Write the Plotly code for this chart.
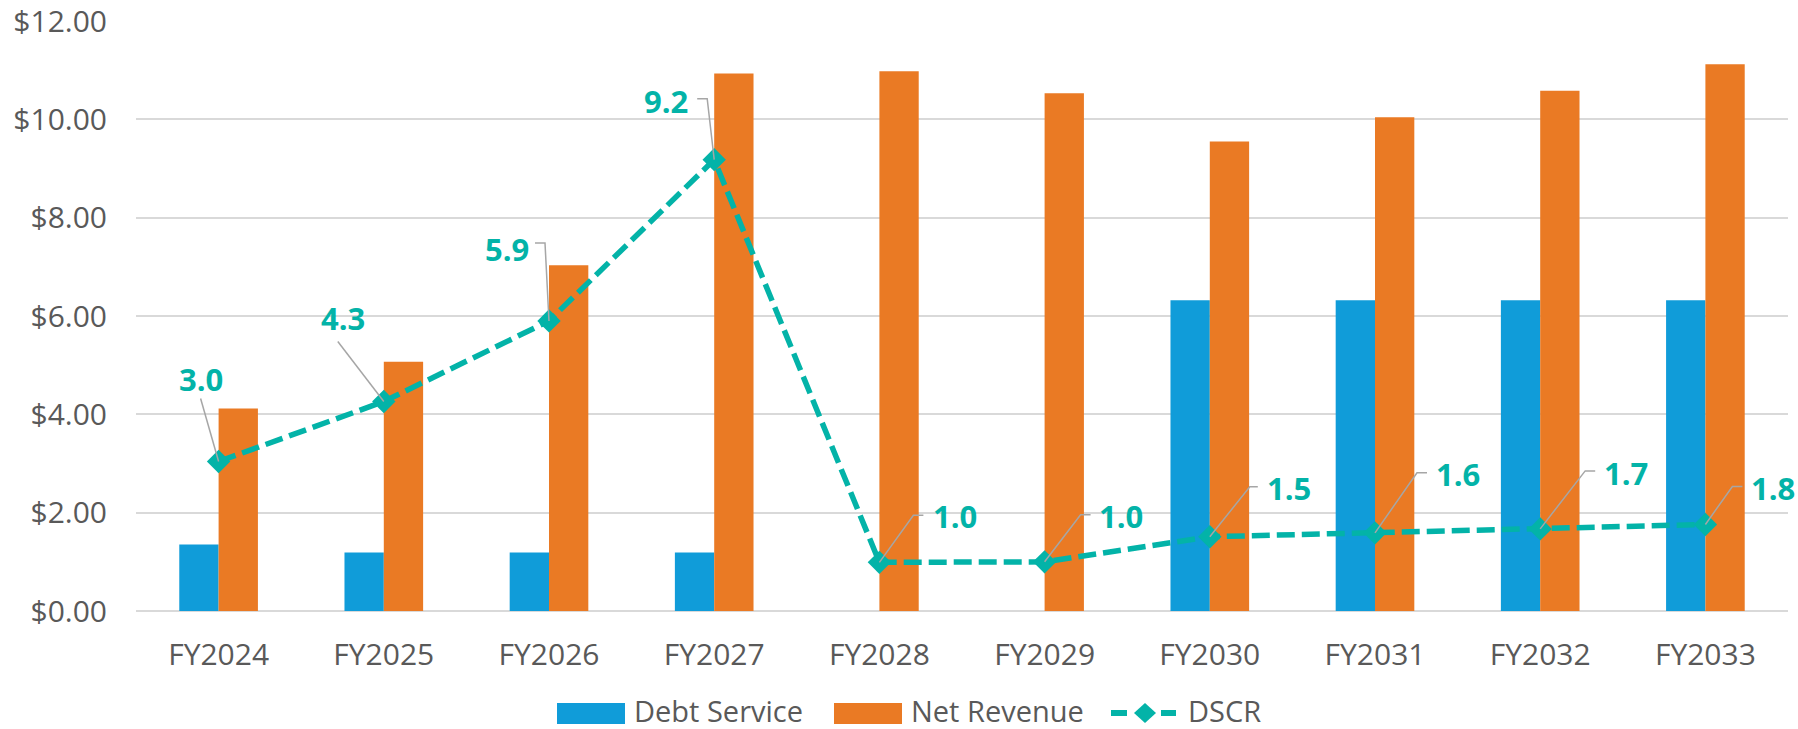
import plotly.graph_objects as go

# ---------------- data ----------------
categories = ["FY2024", "FY2025", "FY2026", "FY2027", "FY2028",
              "FY2029", "FY2030", "FY2031", "FY2032", "FY2033"]
debt_service = [1.355, 1.19, 1.19, 1.19, 0, 0, 6.32, 6.32, 6.32, 6.32]
net_revenue = [4.12, 5.07, 7.03, 10.93, 10.98, 10.53, 9.55, 10.04, 10.58, 11.12]
dscr = [3.04, 4.26, 5.90, 9.18, 0.99, 1.00, 1.51, 1.59, 1.67, 1.76]
y_ticks = [0, 2, 4, 6, 8, 10, 12]

# ---------------- styling ----------------
W, H = 1798, 729
L, R, T, B = 136, 10, 21, 118
PW, PH = W - L - R, H - T - B
BLUE = "#109CD9"
ORANGE = "#EA7A24"
TEAL = "#03B3A8"
GREY_TXT = "#595959"
GRID = "#D9D9D9"
LEAD = "#A6A6A6"
FONT = "Open Sans"
FS = 30
FS_LEG = 29
FS_LBL = 31

# label placement (pixel offsets from the marker: text centre, hook start, hook end)
label_text_off = [(-18, -83), (-41, -84), (-42, -72), (-48, -59), (76, -46),
                  (76, -46), (79, -49), (83, -59), (86, -56), (68, -36)]
label_lead = [
    [(-18, -63)],
    [(-46, -60)],
    [(-14, -78), (-4, -78)],
    [(-17, -61), (-7, -61)],
    [(44, -47), (34, -47)],
    [(46, -47), (36, -47)],
    [(48, -50), (40, -50)],
    [(52, -60), (42, -60)],
    [(55, -58), (45, -58)],
    [(37, -38), (27, -38)],
]

xs = list(range(len(categories)))

fig = go.Figure()
fig.add_trace(go.Bar(x=xs, y=debt_service, name="Debt Service",
                     marker=dict(color=BLUE, line=dict(width=0))))
fig.add_trace(go.Bar(x=xs, y=net_revenue, name="Net Revenue",
                     marker=dict(color=ORANGE, line=dict(width=0))))
fig.add_trace(go.Scatter(x=xs, y=dscr, name="DSCR", mode="lines+markers",
                         line=dict(color=TEAL, width=5.5, dash="18px,7px"),
                         marker=dict(symbol="diamond", size=18, color=TEAL)))

shapes = []
annotations = []
for i, v in enumerate(dscr):
    pts = [(0, 0)] + label_lead[i][::-1]
    path = "M" + " L".join(f"{dx},{-dy}" for dx, dy in pts)
    shapes.append(dict(type="path", xref="x", yref="y",
                       xsizemode="pixel", ysizemode="pixel",
                       xanchor=xs[i], yanchor=v, path=path,
                       line=dict(color=LEAD, width=1.5), layer="above"))
    tdx, tdy = label_text_off[i]
    annotations.append(dict(x=xs[i], y=v, xref="x", yref="y",
                            text=f"<b>{v:.1f}</b>", showarrow=False,
                            xshift=tdx, yshift=-tdy,
                            xanchor="center", yanchor="middle",
                            font=dict(family=FONT, size=FS_LBL, color=TEAL)))


# ---------------- custom legend ----------------
def px_x(p):
    return (p - L) / PW


def px_y(p):
    return (H - B - p) / PH


leg_y0, leg_y1, leg_yc = 703, 724, 710
for (x0, x1, col, txt, tx) in [(557, 625, BLUE, "Debt Service", 632),
                               (834, 902, ORANGE, "Net Revenue", 909)]:
    shapes.append(dict(type="rect", xref="paper", yref="paper",
                       x0=px_x(x0), x1=px_x(x1), y0=px_y(leg_y1), y1=px_y(leg_y0),
                       fillcolor=col, line=dict(width=0)))
    annotations.append(dict(x=px_x(tx), y=px_y(leg_yc), xref="paper", yref="paper",
                            text=txt, showarrow=False, xanchor="left", yanchor="middle",
                            font=dict(family=FONT, size=FS_LEG, color=GREY_TXT)))
for (x0, x1) in [(1111, 1127), (1161, 1176)]:
    shapes.append(dict(type="line", xref="paper", yref="paper",
                       x0=px_x(x0), x1=px_x(x1), y0=px_y(713), y1=px_y(713),
                       line=dict(color=TEAL, width=6)))
cx, cy = 1145, 713
shapes.append(dict(type="path", xref="paper", yref="paper",
                   path=(f"M{px_x(cx-11)},{px_y(cy)} L{px_x(cx)},{px_y(cy-10)} "
                         f"L{px_x(cx+11)},{px_y(cy)} L{px_x(cx)},{px_y(cy+10)} Z"),
                   fillcolor=TEAL, line=dict(width=0)))
annotations.append(dict(x=px_x(1186), y=px_y(leg_yc), xref="paper", yref="paper",
                        text="DSCR", showarrow=False, xanchor="left", yanchor="middle",
                        font=dict(family=FONT, size=FS_LEG, color=GREY_TXT)))

fig.update_layout(
    width=W, height=H,
    margin=dict(l=L, r=R, t=T, b=B, pad=0, autoexpand=False),
    paper_bgcolor="white", plot_bgcolor="white",
    barmode="group", bargap=0.524, bargroupgap=0,
    showlegend=False,
    font=dict(family=FONT, size=FS, color=GREY_TXT),
    shapes=shapes, annotations=annotations,
    xaxis=dict(range=[-0.5, len(categories) - 0.5], tickmode="array",
               tickvals=xs, ticktext=categories, showgrid=False,
               zeroline=False, showline=False, ticks="", automargin=False,
               ticklabelstandoff=23,
               tickfont=dict(family=FONT, size=FS, color=GREY_TXT)),
    yaxis=dict(range=[0, 12], tickmode="array", tickvals=y_ticks,
               ticktext=[f"${t:.2f}" for t in y_ticks],
               showgrid=True, gridcolor=GRID, gridwidth=2,
               zeroline=True, zerolinecolor=GRID, zerolinewidth=2,
               showline=False, ticks="", ticklabelstandoff=28, automargin=False,
               ticklabeloverflow="allow",
               tickfont=dict(family=FONT, size=FS, color=GREY_TXT)),
)

fig.write_html("out.html")
